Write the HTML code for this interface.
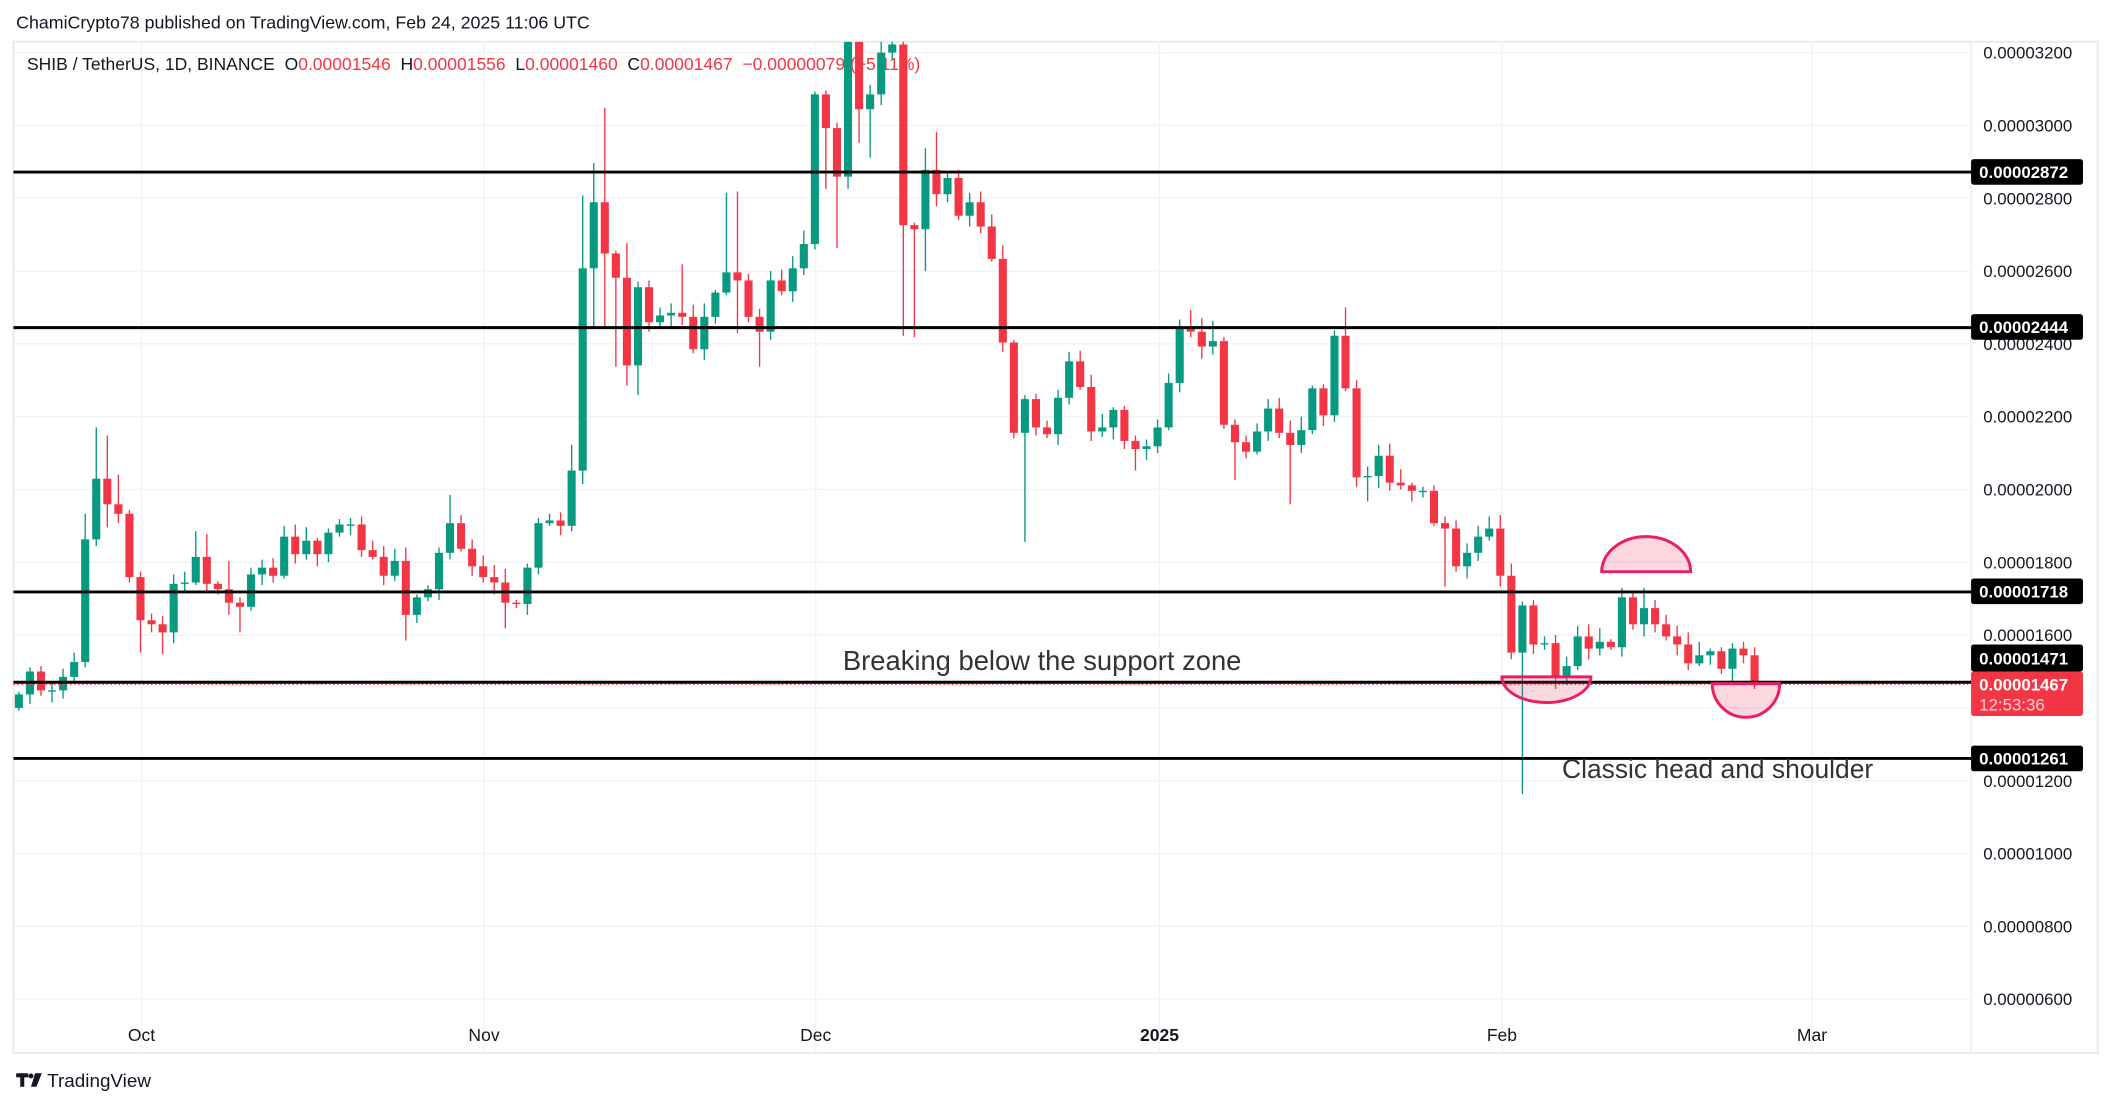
<!DOCTYPE html>
<html><head><meta charset="utf-8"><style>
html,body{margin:0;padding:0;background:#fff;width:2114px;height:1107px;overflow:hidden}
svg{display:block}
text{font-family:"Liberation Sans",sans-serif}
</style></head><body>
<svg id="s" width="2114" height="1107" viewBox="0 0 1568 821" preserveAspectRatio="none" xmlns="http://www.w3.org/2000/svg">
<defs><clipPath id="cp"><rect x="10" y="31" width="1452" height="750"/></clipPath></defs>
<rect x="0" y="0" width="1568" height="821" fill="#fff"/>
<text x="12" y="21" font-size="13.2" fill="#131722">ChamiCrypto78 published on TradingView.com, Feb 24, 2025 11:06 UTC</text>
<rect x="10" y="31" width="1546" height="750" fill="none" stroke="#ebebeb" stroke-width="1.5"/>
<line x1="1462" y1="31" x2="1462" y2="781" stroke="#ebebeb" stroke-width="1"/>
<g id="grid" stroke="#f2f2f4" stroke-width="1"></g>
<text x="20" y="52" font-size="13" fill="#131722">SHIB / TetherUS, 1D, BINANCE&#160;&#160;O<tspan fill="#f23645">0.00001546</tspan>&#160;&#160;H<tspan fill="#f23645">0.00001556</tspan>&#160;&#160;L<tspan fill="#f23645">0.00001460</tspan>&#160;&#160;C<tspan fill="#f23645">0.00001467</tspan>&#160;&#160;<tspan fill="#f23645">−0.00000079 (−5.11%)</tspan></text>
<g id="candles" clip-path="url(#cp)"></g>
<g stroke="#000" stroke-width="2.2">
<line x1="10" y1="127.6" x2="1462" y2="127.6"/>
<line x1="10" y1="243" x2="1462" y2="243"/>
<line x1="10" y1="439" x2="1462" y2="439"/>
<line x1="10" y1="506" x2="1462" y2="506"/>
<line x1="10" y1="562.5" x2="1462" y2="562.5"/>
</g>
<line x1="10" y1="507.5" x2="1462" y2="507.5" stroke="#f23645" stroke-width="1" stroke-dasharray="1 2"/>
<path d="M1188,424 A33,26 0 0 1 1254,424 Z" fill="rgba(242,54,100,0.2)" stroke="#e91e63" stroke-width="2.2"/>
<path d="M1114,502 A33,19 0 0 0 1180,502 Z" fill="rgba(242,54,100,0.2)" stroke="#e91e63" stroke-width="2.2"/>
<path d="M1270,507 A25,25 0 0 0 1320,507 Z" fill="rgba(242,54,100,0.2)" stroke="#e91e63" stroke-width="2.2"/>
<text x="773" y="497" font-size="20.3" fill="#333" text-anchor="middle">Breaking below the support zone</text>
<text x="1274" y="577" font-size="19.6" fill="#333" text-anchor="middle">Classic head and shoulder</text>
<g id="axis" font-size="12.5" fill="#131722"></g>
<g font-size="12.5" font-weight="bold" fill="#fff">
<rect x="1462" y="118" width="83" height="19" rx="2" fill="#000"/><text x="1468" y="132">0.00002872</text>
<rect x="1462" y="233" width="83" height="19" rx="2" fill="#000"/><text x="1468" y="247">0.00002444</text>
<rect x="1462" y="429" width="83" height="19" rx="2" fill="#000"/><text x="1468" y="443">0.00001718</text>
<rect x="1462" y="478" width="83" height="20" rx="2" fill="#000"/><text x="1468" y="493">0.00001471</text>
<rect x="1462" y="498" width="83" height="33" rx="2" fill="#f23645"/><text x="1468" y="512">0.00001467</text>
<text x="1468" y="527" font-weight="normal" fill="#fbd0d6">12:53:36</text>
<rect x="1462" y="553" width="83" height="19" rx="2" fill="#000"/><text x="1468" y="567">0.00001261</text>
</g>
<g font-size="13" fill="#131722" text-anchor="middle">
<text x="105" y="772">Oct</text><text x="359" y="772">Nov</text><text x="605" y="772">Dec</text>
<text x="860" y="772" font-weight="bold">2025</text><text x="1114" y="772">Feb</text><text x="1344" y="772">Mar</text>
</g>
<g fill="#131722"><rect x="12" y="796" width="9" height="3"/><rect x="15" y="796" width="3" height="10"/><circle cx="23" cy="798" r="1.8"/><path d="M26,796 L31,796 L27,806 L23,806 Z"/></g>
<text x="35" y="806" font-size="14" fill="#131722">TradingView</text>
</svg>
<script>
(function(){
var NS="http://www.w3.org/2000/svg";
function el(p,t,a){var e=document.createElementNS(NS,t);for(var k in a)e.setAttribute(k,a[k]);p.appendChild(e);return e;}
var g=document.getElementById('grid');
for(var k=0;k<14;k++){var y=39+k*54;el(g,'line',{x1:10,y1:y,x2:1462,y2:y});}
[105,359,605,860,1114,1344].forEach(function(x){el(g,'line',{x1:x,y1:31,x2:x,y2:781});});
var ax=document.getElementById('axis');
for(var v=32;v>=6;v-=2){var y=39+(32-v)*27;var s='0.0000'+(v<10?'0':'')+(v*100);el(ax,'text',{x:1471,y:y+4.5}).textContent=s;}
var C=[515,498,512,512,502,491,400,355,374,381,428,460,463,469,433,432,413,433,437,447,450,426,421,427,398,411,401,411,395,389,389,408,413,427,416,456,443,437,410,388,407,420,428,432,447,448,421,388,386,390,349,199,150,188,206,271,213,239,234,232,235,259,235,217,202,208,235,246,208,216,199,181,70,95,131,31,81,70,39,33,167,170,126,144,132,160,150,168,192,254,321,296,317,322,295,268,287,320,317,304,327,333,331,317,284,243,246,257,253,315,328,335,320,303,321,330,319,288,308,249,288,354,353,338,358,360,364,364,388,392,420,410,398,392,427,484,449,478,477,502,494,472,481,476,480,443,463,451,463,472,478,492,486,483,496,481,486,508];
var H={6:381,7:317,8:323,9:352,16:394,17:396,19:416,39:367,50:330,51:145,52:121,53:80,55:180,60:196,64:143,65:142,75:20,82:110,83:98,105:237,106:230,108:238,120:228,135:418,145:436,147:436};
var L={6:495,8:391,11:484,13:485,20:469,35:475,44:466,51:359,52:243,53:244,54:272,55:286,56:293,65:247,67:272,72:185,73:140,74:184,76:106,77:117,80:249,81:250,82:201,91:402,101:349,110:356,115:374,122:372,129:435,136:589};
var gg=document.getElementById('candles');
var prev=525;
for(var i=0;i<C.length;i++){
 var o=prev,c=C[i];prev=c;
 var x=14+i*8.2;
 var col=(c<=o)?'#089981':'#f23645';
 var bt=Math.min(o,c),bb=Math.max(o,c);
 var r1=((i*37)%9)+2,r2=((i*53)%8)+2;
 var hh=(H[i]!==undefined)?H[i]:bt-r1;var ll=(L[i]!==undefined)?L[i]:bb+r2;
 el(gg,'line',{x1:x,y1:hh,x2:x,y2:ll,stroke:col,'stroke-width':1});
 el(gg,'rect',{x:x-3,y:bt,width:6,height:Math.max(1,bb-bt),fill:col});
}
})();
</script>
</body></html>
